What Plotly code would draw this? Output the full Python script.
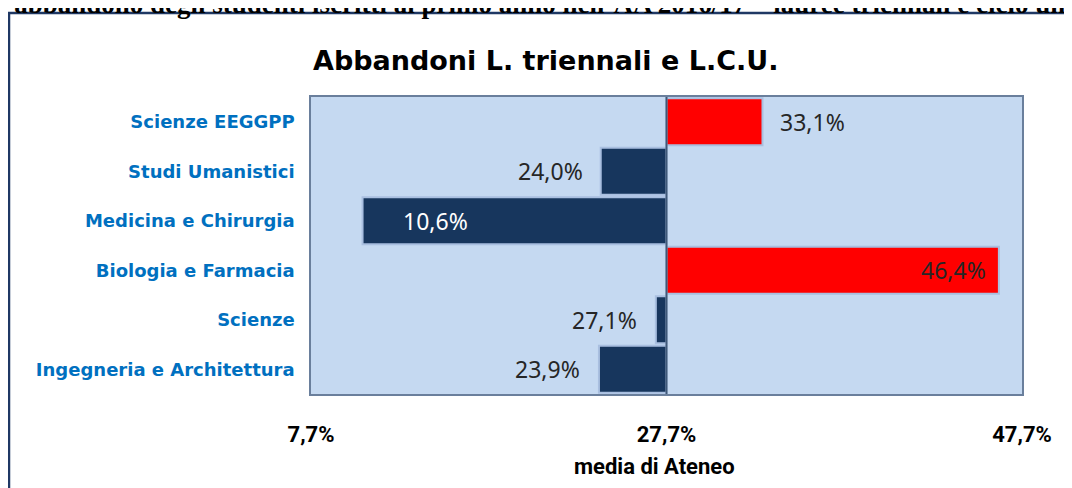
import plotly.graph_objects as go

categories = ["Scienze EEGGPP", "Studi Umanistici", "Medicina e Chirurgia",
              "Biologia e Farmacia", "Scienze", "Ingegneria e Architettura"]
values = [33.1, 24.0, 10.6, 46.4, 27.1, 23.9]
media = 27.7
tick_vals = [7.7, 27.7, 47.7]
tick_text = ["7,7%", "27,7%", "47,7%"]
labels = ["33,1%", "24,0%", "10,6%", "46,4%", "27,1%", "23,9%"]

OFF = 8  # page body margin
W, H = 1072 - OFF, 488 - OFF
# plot area in page pixels: x 311..1022, y 97..394
L, R, T, B = 311 - OFF, W - (1022 - OFF), 97 - OFF, H - (394 - OFF)
PW, PH = W - L - R, H - T - B

def px_x(X):
    return (X - OFF - L) / PW

def px_y(Y):
    return (H - B - (Y - OFF)) / PH

colors = ["#FF0000" if v > media else "#17365D" for v in values]

fig = go.Figure()
fig.add_trace(go.Bar(
    y=categories,
    x=[v - media for v in values],
    base=media,
    orientation="h",
    marker=dict(color=colors, line=dict(color="#A9BFE0", width=2)),
    hoverinfo="skip",
))

# label styling: (anchor, shift, color)
label_style = [
    ("left", 16, "#262626"),
    ("right", -16, "#262626"),
    ("left", 38, "#FFFFFF"),
    ("right", -11, "#262626"),
    ("right", -17, "#262626"),
    ("right", -17, "#262626"),
]
annotations = []
for cat, v, lab, (anc, sh, col) in zip(categories, values, labels, label_style):
    annotations.append(dict(
        x=v, y=cat, xref="x", yref="y", text=lab, showarrow=False,
        xanchor=anc, xshift=sh, yanchor="middle",
        font=dict(family="Noto Sans", size=23, color=col),
    ))

# title
annotations.append(dict(
    x=px_x(545), y=px_y(60), xref="paper", yref="paper",
    text="<b>Abbandoni L. triennali e L.C.U.</b>", showarrow=False,
    xanchor="center", yanchor="middle",
    font=dict(family="DejaVu Sans", size=27, color="#000000"),
))
# cut-off heading at top of page
annotations.append(dict(
    x=px_x(-2), y=px_y(21), xref="paper", yref="paper",
    text="<b>i abbandono degli studenti iscritti al primo anno nell\u2019AA 2016/17 \u2013 lauree triennali e ciclo unico</b>",
    showarrow=False, xanchor="left", yanchor="bottom",
    font=dict(family="Liberation Serif", size=27, color="#000000"),
))
# axis title
annotations.append(dict(
    x=px_x(654), y=px_y(466), xref="paper", yref="paper",
    text="<b>media di Ateneo</b>", showarrow=False,
    xanchor="center", yanchor="middle",
    font=dict(family="Roboto", size=22, color="#000000"),
))

shapes = [
    dict(type="line", xref="x", yref="paper", x0=media, x1=media, y0=0, y1=1,
         line=dict(color="#3F5878", width=2), layer="above"),
    dict(type="rect", xref="paper", yref="paper",
         x0=px_x(9), x1=px_x(1100), y0=px_y(13), y1=px_y(520),
         line=dict(color="#1F3864", width=2.5), layer="below"),
]

fig.update_layout(
    width=W, height=H,
    margin=dict(l=L, r=R, t=T, b=B, pad=0),
    paper_bgcolor="#FFFFFF",
    plot_bgcolor="#C5D9F1",
    showlegend=False,
    bargap=0.05,
    annotations=annotations,
    shapes=shapes,
    xaxis=dict(
        range=[7.7, 47.7], tickvals=tick_vals, ticktext=tick_text,
        showgrid=False, zeroline=False, ticks="",
        showline=True, mirror=True, linecolor="#6A7F9C", linewidth=1.5,
        ticklabelstandoff=20,
        tickfont=dict(family="Roboto", size=22, color="#000000", weight="bold"),
    ),
    yaxis=dict(
        categoryorder="array", categoryarray=categories[::-1],
        showgrid=False, zeroline=False, ticks="",
        showline=True, mirror=True, linecolor="#6A7F9C", linewidth=1.5,
        ticklabelstandoff=11,
        tickfont=dict(family="DejaVu Sans", size=18, color="#0070C0", weight="bold"),
    ),
)

fig.write_html("out.html")
